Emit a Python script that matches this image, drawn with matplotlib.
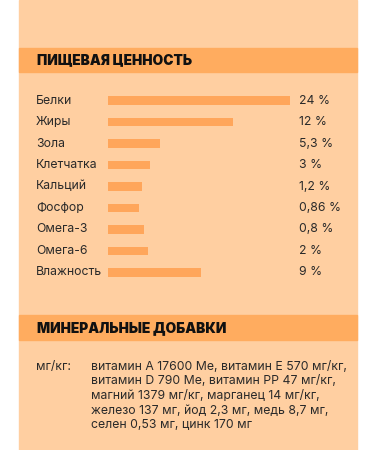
import matplotlib

matplotlib.use("Agg")
import matplotlib.pyplot as plt  # noqa: E402
from matplotlib import transforms  # noqa: E402
from matplotlib.patches import Rectangle  # noqa: E402

PANEL = "#FFCFA1"
BAND = "#FFAC5F"
BAR = "#FFA65B"
TEXT = "#2A2A2A"

nutrients = ["Белки", "Жиры", "Зола", "Клетчатка", "Кальций",
             "Фосфор", "Омега-3", "Омега-6", "Влажность"]
value_labels = ["24 %", "12 %", "5,3 %", "3 %", "1,2 %",
                "0,86 %", "0,8 %", "2 %", "9 %"]
bar_lengths = [100, 69, 29, 23, 19, 17, 20, 22, 51]

mineral_unit = "мг/кг:"
mineral_lines = [
    "витамин А 17600 Ме, витамин Е 570 мг/кг,",
    "витамин D 790 Ме, витамин РР 47 мг/кг,",
    "магний 1379 мг/кг, марганец 14 мг/кг,",
    "железо 137 мг, йод 2,3 мг, медь 8,7 мг,",
    "селен 0,53 мг, цинк 170 мг",
]

plt.rcParams["font.family"] = ["Inter", "DejaVu Sans"]

W, H = 375, 450
fig = plt.figure(figsize=(W / 100, H / 100), dpi=100, facecolor="white")


def px_rect(x0, y0, x1, y1, color):
    fig.patches.append(Rectangle((x0 / W, 1 - y1 / H), (x1 - x0) / W, (y1 - y0) / H,
                                 transform=fig.transFigure, color=color, zorder=-5))


px_rect(19.3, 0, 356.7, H, PANEL)
px_rect(19.3, 47.7, 356.7, 71.7, BAND)
px_rect(19.3, 315, 356.7, 340, BAND)

HEAD = 9.9
BODY = 8.8

fig.text(37 / W, 1 - 60 / H, "ПИЩЕВАЯ ЦЕННОСТЬ", fontsize=HEAD, fontweight="black",
         color="#111111", va="center", ha="left")
fig.text(37 / W, 1 - 328 / H, "МИНЕРАЛЬНЫЕ ДОБАВКИ", fontsize=HEAD, fontweight="black",
         color="#111111", va="center", ha="left")

# bar chart
step = (272.3 - 100.7) / 8
top = 100.7 - step / 2
bottom = 272.3 + step / 2
ax = fig.add_axes([107.7 / W, 1 - bottom / H, 182 / W, (bottom - top) / H])
ax.set_facecolor("none")
pos = list(range(len(nutrients)))
ax.barh(pos, bar_lengths, height=0.4, color=BAR)
ax.set_xlim(0, 100)
ax.set_ylim(len(nutrients) - 0.5, -0.5)
ax.set_axis_off()

tr = transforms.blended_transform_factory(fig.transFigure, ax.transData)
for i, (name, val) in enumerate(zip(nutrients, value_labels)):
    ax.text(36 / W, i, name, transform=tr, fontsize=BODY, color=TEXT,
            va="center", ha="left", clip_on=False)
    ax.text(299 / W, i, val, transform=tr, fontsize=BODY, color=TEXT,
            va="center", ha="left", clip_on=False)

# mineral additives
fig.text(36 / W, 1 - 367 / H, mineral_unit, fontsize=BODY, color=TEXT,
         va="center", ha="left")
for k, line in enumerate(mineral_lines):
    fig.text(90.7 / W, 1 - (367 + 14.5 * k) / H, line, fontsize=BODY, color=TEXT,
             va="center", ha="left")

fig.savefig("out.png", dpi=100, facecolor="white")
